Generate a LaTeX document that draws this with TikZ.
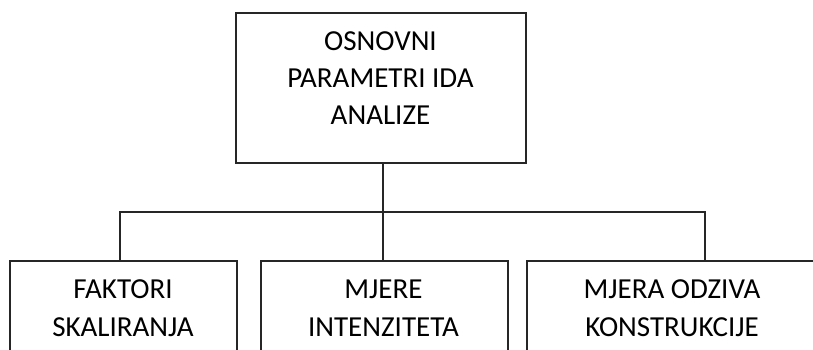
\documentclass[tikz,border=0pt]{standalone}
\usepackage{fontspec}
\setmainfont{Carlito}
\begin{document}
\begin{tikzpicture}[x=1pt,y=-1pt,
  box/.style={draw=black!85,line width=1.7pt,rectangle,inner sep=0pt,anchor=north west},
  txt/.style={align=center,font=\fontsize{29}{36.7}\selectfont,inner sep=0pt,text=black},
  conn/.style={draw=black!85,line width=1.7pt}]
\useasboundingbox (0,0) rectangle (813,349);
\clip (0,0) rectangle (813,349);
\node[box,minimum width=290pt,minimum height=150pt] (top) at (235,12) {};
\node[box,minimum width=227pt,minimum height=110pt] (b1) at (9,260) {};
\node[box,minimum width=247pt,minimum height=110pt] (b2) at (260,260) {};
\node[box,minimum width=292pt,minimum height=110pt] (b3) at (526,260) {};
\node[txt] (t0) at (380.5,78) {OSNOVNI\\PARAMETRI IDA\\ANALIZE};
\node[txt,font=\fontsize{29}{37.7}\selectfont] (t1) at (123,308) {FAKTORI\\SKALIRANJA};
\node[txt,font=\fontsize{29}{37.7}\selectfont] (t2) at (383.5,308) {MJERE\\INTENZITETA};
\node[txt,font=\fontsize{29}{37.7}\selectfont] (t3) at (672,308) {MJERA ODZIVA\\KONSTRUKCIJE};
\coordinate (s) at ([xshift=2pt]top.south);
\coordinate (bar) at (382,212);
\coordinate (f1) at ([xshift=-3.5pt]b1.north);
\coordinate (f2) at ([xshift=-1.5pt]b2.north);
\coordinate (f3) at ([xshift=32pt]b3.north);
\draw[conn] (s) -- (s |- bar);
\draw[conn] (s |- bar) -| (f1);
\draw[conn] (s |- bar) -| (f3);
\draw[conn] (s |- bar) -- (f2);
\end{tikzpicture}
\end{document}
